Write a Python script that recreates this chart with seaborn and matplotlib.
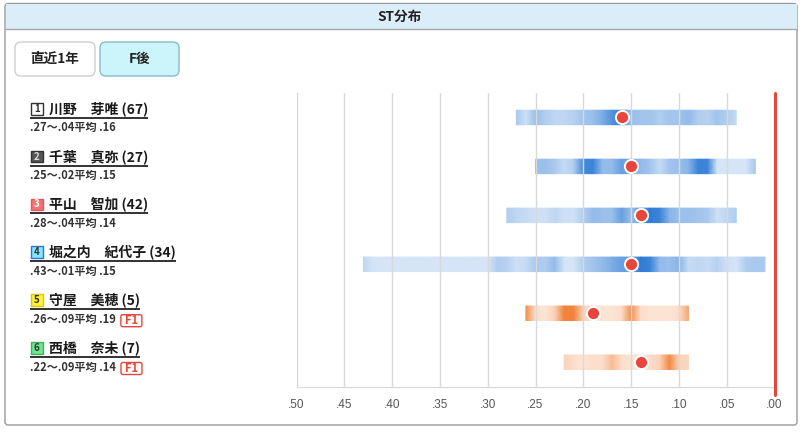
import numpy as np
import pandas as pd
import matplotlib
matplotlib.use("Agg")
import matplotlib.pyplot as plt
import seaborn as sns
from matplotlib.colors import LinearSegmentedColormap
from matplotlib.patches import FancyBboxPatch, Rectangle

# ---- data ----
lanes = ["1", "2", "3", "4", "5", "6"]
names = ["川野　芽唯", "千葉　真弥", "平山　智加", "堀之内　紀代子", "守屋　美穂", "西橋　奈未"]
counts = [67, 27, 42, 34, 5, 7]
st_slow = [0.27, 0.25, 0.28, 0.43, 0.26, 0.22]
st_fast = [0.04, 0.02, 0.04, 0.01, 0.09, 0.09]
st_avg = [0.16, 0.15, 0.14, 0.15, 0.19, 0.14]
f_count = [0, 0, 0, 0, 1, 1]

# density (0 = faint, 1 = strong) at every .01 from slowest to fastest ST
density_1 = [0.35, 0.1, 0.45, 0.3, 0.2, 0.2, 0.25, 0.4, 0.45, 0.6, 0.8, 0.9,
             0.45, 0.4, 0.4, 0.3, 0.4, 0.4, 0.5, 0.3, 0.25, 0.4, 0.3, 0.15]
density_2 = [0.45, 0.45, 0.35, 0.15, 0.3, 0.85, 0.9, 0.5, 0.5, 0.7, 0.6, 0.5,
             0.4, 0.15, 0.4, 0.45, 0.55, 0.9, 0.9, 0.05, 0.05, 0.05, 0.05, 0.35]
density_3 = [0.3, 0.2, 0.15, 0.1, 0.1, 0.2, 0.1, 0.1, 0.3, 0.5, 0.45, 0.45, 0.7,
             0.45, 0.75, 0.95, 0.9, 0.55, 0.45, 0.45, 0.4, 0.35, 0.1, 0.2, 0.3]
density_4 = [0.2, 0.05, 0.05, 0.05, 0.05, 0.05, 0.05, 0.05, 0.05, 0.05, 0.05,
             0.05, 0.05, 0.05, 0.3, 0.25, 0.1, 0.15, 0.35, 0.3, 0.5, 0.05, 0.05,
             0.3, 0.4, 0.5, 0.6, 0.7, 0.7, 0.95, 0.9, 0.5, 0.45, 0.55, 0.15,
             0.2, 0.15, 0.25, 0.1, 0.05, 0.3, 0.35, 0.35]
density_5 = [0.8, 0.1, 0.05, 0.2, 0.9, 0.9, 0.2, 0.05, 0.05, 0.05, 0.1, 0.8,
             0.1, 0.05, 0.05, 0.05, 0.1, 0.6]
density_6 = [0.2, 0.1, 0.05, 0.1, 0.1, 0.4, 0.1, 0.05, 0.05, 0.1, 0.2, 0.85,
             0.2, 0.15]
densities = [density_1, density_2, density_3, density_4, density_5, density_6]

tick_values = [0.50, 0.45, 0.40, 0.35, 0.30, 0.25, 0.20, 0.15, 0.10, 0.05, 0.00]
tick_labels = [".50", ".45", ".40", ".35", ".30", ".25", ".20", ".15", ".10", ".05", ".00"]

# ---- styles ----
lane_fc = ["#ffffff", "#555555", "#f47174", "#80e8ff", "#fff23a", "#6ee68f"]
lane_ec = ["#333333", "#333333", "#e05a5a", "#3a6fd8", "#d8c800", "#3bb35f"]
lane_tc = ["#333333", "#dddddd", "#ffffff", "#333333", "#333333", "#333333"]
red = "#e8453c"
blue_cmap = LinearSegmentedColormap.from_list("st_blue", ["#dce9f8", "#93bbea", "#2676d4"])
orange_cmap = LinearSegmentedColormap.from_list("st_orange", ["#fde9dd", "#f6b182", "#f0782a"])

sns.set_style("white")
plt.rcParams["font.family"] = ["Noto Sans CJK JP", "DejaVu Sans"]

W, H = 801, 433
fig = plt.figure(figsize=(W / 100, H / 100), dpi=100)

# background layer in pixel coordinates
bg = fig.add_axes([0, 0, 1, 1], zorder=0)
bg.set_xlim(0, W)
bg.set_ylim(H, 0)
bg.axis("off")

bg.add_patch(FancyBboxPatch((5, 3.5), 792, 421.5, boxstyle="round,pad=0,rounding_size=3",
                            fc="white", ec="#9a9a9a", lw=1))
bg.add_patch(Rectangle((5.5, 4), 791, 25, fc="#dcedfa", ec="none"))
bg.plot([5, 797], [29, 29], color="#a8a8a8", lw=1)
bg.text(400, 17, "ST分布", ha="center", va="center", fontsize=9.8, fontweight="bold", color="#222")

# period buttons
bg.add_patch(FancyBboxPatch((15, 42), 80, 34, boxstyle="round,pad=0,rounding_size=6",
                            fc="white", ec="#cfcfcf", lw=1))
bg.text(55, 59, "直近1年", ha="center", va="center", fontsize=9.8, fontweight="bold", color="#222")
bg.add_patch(FancyBboxPatch((100, 42), 79, 34, boxstyle="round,pad=0,rounding_size=6",
                            fc="#ccf5fb", ec="#88bbc6", lw=1))
bg.text(139.5, 59, "F後", ha="center", va="center", fontsize=9.8, fontweight="bold", color="#222")

# racer labels
name_texts = []
sub_texts = []
for i in range(6):
    yc = 108.5 + 47.8 * i
    bg.add_patch(Rectangle((30.5, yc - 5.5), 12.5, 11.5, fc=lane_fc[i], ec=lane_ec[i], lw=1))
    bg.text(36.8, yc + 0.3, lanes[i], ha="center", va="center", fontsize=7,
            fontweight="bold", color=lane_tc[i])
    t = bg.text(49, yc, f"{names[i]} ({counts[i]})", ha="left", va="center",
                fontsize=10, fontweight="bold", color="#1a1a1a")
    name_texts.append(t)
    s = bg.text(30, yc + 19.5,
                f"{st_slow[i]:.2f}"[1:] + "〜" + f"{st_fast[i]:.2f}"[1:] + "平均 " + f"{st_avg[i]:.2f}"[1:],
                ha="left", va="center", fontsize=8, fontweight="bold", color="#333")
    sub_texts.append(s)

# ---- main chart ----
ax = fig.add_axes([296.5 / W, (H - 386.7) / H, 478 / W, 293.7 / H], zorder=1)
ax.set_facecolor("none")

for i, dens in enumerate(densities):
    x = np.linspace(st_slow[i], st_fast[i], len(dens))
    X = np.vstack([x, x])
    Y = np.vstack([np.full_like(x, i - 0.148), np.full_like(x, i + 0.148)])
    C = np.vstack([dens, dens])
    cmap = orange_cmap if f_count[i] > 0 else blue_cmap
    ax.pcolormesh(X, Y, C, shading="gouraud", cmap=cmap, vmin=0, vmax=1, zorder=1)

df = pd.DataFrame({"avg": st_avg, "row": range(6)})
sns.scatterplot(data=df, x="avg", y="row", color=red, s=90, edgecolor="white",
                linewidth=1.4, zorder=5, ax=ax, legend=False)

ax.plot([0, 0], [-0.5, 5.67], color=red, lw=2.2, clip_on=False, zorder=4)

ax.set_xlim(0.5, 0.0)
ax.set_ylim(5.5, -0.5)
ax.set_xticks(tick_values)
ax.set_xticklabels(tick_labels, family=["Liberation Sans"], fontsize=8.5, color="#555")
ax.set_yticks([])
ax.set_xlabel("")
ax.set_ylabel("")
ax.set_axisbelow(False)
ax.grid(axis="x", color="#d9d9d9", lw=1)
ax.tick_params(axis="x", length=0, pad=8.5)
for side in ["top", "right"]:
    ax.spines[side].set_visible(False)
ax.spines["left"].set_color("#d9d9d9")
ax.spines["bottom"].set_color("#d9d9d9")

# underlines and F badges sized from rendered text
fig.canvas.draw()
renderer = fig.canvas.get_renderer()
inv = bg.transData.inverted()
for i in range(6):
    yc = 108.5 + 47.8 * i
    bb = name_texts[i].get_window_extent(renderer)
    x1 = inv.transform((bb.x1, bb.y0))[0]
    bg.plot([30, x1], [yc + 9.3, yc + 9.3], color="#222", lw=1.3, solid_capstyle="butt")
    if f_count[i] > 0:
        sb = sub_texts[i].get_window_extent(renderer)
        sx = inv.transform((sb.x1, sb.y0))[0] + 5
        sy = yc + 19.5 + 1.5
        bg.add_patch(FancyBboxPatch((sx, sy - 6), 21, 12, boxstyle="round,pad=0,rounding_size=2",
                                    fc="white", ec=red, lw=1))
        bg.text(sx + 10.5, sy + 0.3, f"F{f_count[i]}", ha="center", va="center",
                fontsize=8, fontweight="bold", color=red)

fig.savefig("out.png", dpi=100)
